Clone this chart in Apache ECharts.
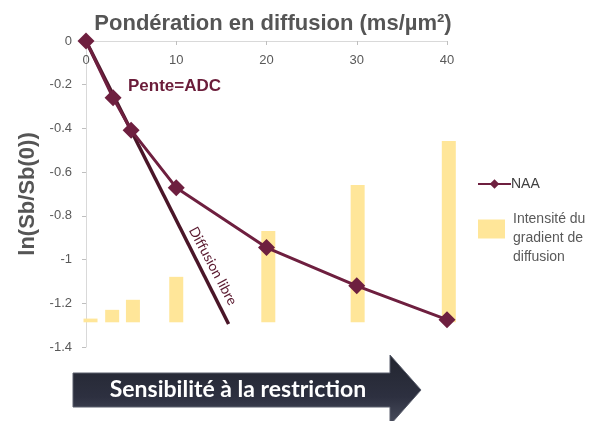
<!DOCTYPE html>
<html><head><meta charset="utf-8">
<script src="https://cdn.jsdelivr.net/npm/echarts@6/dist/echarts.min.js"></script>
<style>html,body{margin:0;padding:0;background:#fff}#c{width:597px;height:421px}</style>
</head><body><div id="c"></div>
<script>
// ---- data ----
const naaX = [0, 3, 5, 10, 20, 30, 40];
const naaY = [0, -0.26, -0.408, -0.671, -0.945, -1.12, -1.275];
const barX = [0.5, 2.9, 5.2, 10, 20.2, 30.1, 40.2];
const barTop = [-1.27, -1.23, -1.184, -1.079, -0.869, -0.659, -0.458];
const barBase = -1.287;
const libreX = [0, 15.8];
const libreY = [0, -1.295];
const xTitle = 'Pondération en diffusion (ms/µm²)';
const yTitle = 'ln(Sb/Sb(0))';
const naaName = 'NAA';
const barName = 'Intensité du gradient de diffusion';
const barLegendText = '\nIntensité du\ngradient de\ndiffusion';
const slopeText = 'Pente=ADC';
const libreText = 'Diffusion libre';
const arrowText = 'Sensibilité à la restriction';

const chart = echarts.init(document.getElementById('c'), null, {renderer: 'canvas'});
const font = '"Liberation Sans", Arial, sans-serif';
const option = {
  animation: false,
  backgroundColor: '#fff',
  grid: {left: 86, right: 150, top: 41, bottom: 74},
  xAxis: {
    type: 'value', position: 'top', min: 0, max: 40, interval: 10,
    name: xTitle, nameLocation: 'middle', nameGap: 6,
    nameTextStyle: {fontFamily: font, fontWeight: 'bold', fontSize: 22, color: '#555555', verticalAlign: 'bottom', padding: [0, 0, 0, 13]},
    axisLine: {show: true, lineStyle: {color: '#d9d9d9', width: 1}},
    axisTick: {show: true, inside: true, length: 4, lineStyle: {color: '#bfbfbf'}},
    axisLabel: {inside: true, margin: 13, fontFamily: font, fontSize: 13, color: '#595959'},
    splitLine: {show: false}
  },
  yAxis: {
    type: 'value', min: -1.4, max: 0, interval: 0.2,
    name: yTitle, nameLocation: 'middle', nameGap: 47, nameRotate: 90,
    nameTextStyle: {fontFamily: font, fontWeight: 'bold', fontSize: 22, color: '#555555'},
    axisLine: {show: true, lineStyle: {color: '#d9d9d9', width: 1}},
    axisTick: {show: true, length: 4, lineStyle: {color: '#bfbfbf'}},
    axisLabel: {margin: 14, fontFamily: font, fontSize: 13, color: '#595959'},
    splitLine: {show: false}
  },
  legend: [
    {data: [naaName], left: 477, top: 177, padding: 0, orient: 'vertical', itemWidth: 33, itemHeight: 12,
     textStyle: {fontFamily: font, fontSize: 14, color: '#404040', padding: [0, 0, 0, -5]}},
    {data: [{name: barName, icon: 'rect'}], left: 478, top: 191, padding: 0, itemWidth: 27, itemHeight: 19,
     formatter: () => barLegendText,
     textStyle: {fontFamily: font, fontSize: 14, color: '#595959', lineHeight: 19, padding: [0, 0, 0, 3]}}
  ],
  series: [
    {
      name: barName, type: 'custom', clip: false, z: 1,
      itemStyle: {color: '#ffe699'},
      data: barX.map((x, i) => [x, barTop[i], barBase]),
      renderItem: function (params, api) {
        const top = api.coord([api.value(0), api.value(1)]);
        const bot = api.coord([api.value(0), api.value(2)]);
        const w = 14;
        return {type: 'rect', shape: {x: top[0] - w / 2, y: top[1], width: w, height: bot[1] - top[1]},
                style: {fill: '#ffe699'}};
      }
    },
    {
      name: 'libre', type: 'line', z: 2, showSymbol: false, symbol: 'none',
      data: libreX.map((x, i) => [x, libreY[i]]),
      lineStyle: {color: '#4a1628', width: 3.5}, silent: true
    },
    {
      name: naaName, type: 'line', z: 3,
      data: naaX.map((x, i) => [x, naaY[i]]),
      symbol: 'diamond', symbolSize: 17,
      itemStyle: {color: '#6e1f3f'},
      lineStyle: {color: '#6e1f3f', width: 3}
    }
  ]
};
chart.setOption(option);

const lp = chart.convertToPixel({xAxisIndex: 0, yAxisIndex: 0}, [14.06, -1.029]);
const sp = chart.convertToPixel({xAxisIndex: 0, yAxisIndex: 0}, [4.65, -0.2]);
chart.setOption({
  graphic: [
    {type: 'text', left: sp[0], top: sp[1] - 7, z: 10,
     style: {text: slopeText, font: 'bold 17px ' + font, fill: '#6b1d3a'}},
    {type: 'text', x: lp[0], y: lp[1], rotation: -1.08, z: 10,
     style: {text: libreText, font: '14px Lato, "Liberation Sans", sans-serif', fill: '#5a1a30', align: 'center', verticalAlign: 'middle'}},
    {type: 'polygon', z: 5,
     shape: {points: [[73, 373], [390, 373], [390, 355], [421, 390], [390, 425], [390, 407], [73, 407]]},
     style: {fill: new echarts.graphic.LinearGradient(0, 0, 0, 1, [
       {offset: 0, color: '#22252f'}, {offset: 0.6, color: '#2d3040'}, {offset: 1, color: '#4a4e5e'}]),
       stroke: '#5a5e6c', lineWidth: 1}},
    {type: 'text', x: 238, y: 390, z: 6,
     style: {text: arrowText, font: 'bold 23px Lato, "Open Sans", sans-serif', fill: '#ffffff', align: 'center', verticalAlign: 'middle'}}
  ]
});
</script>
</body></html>
